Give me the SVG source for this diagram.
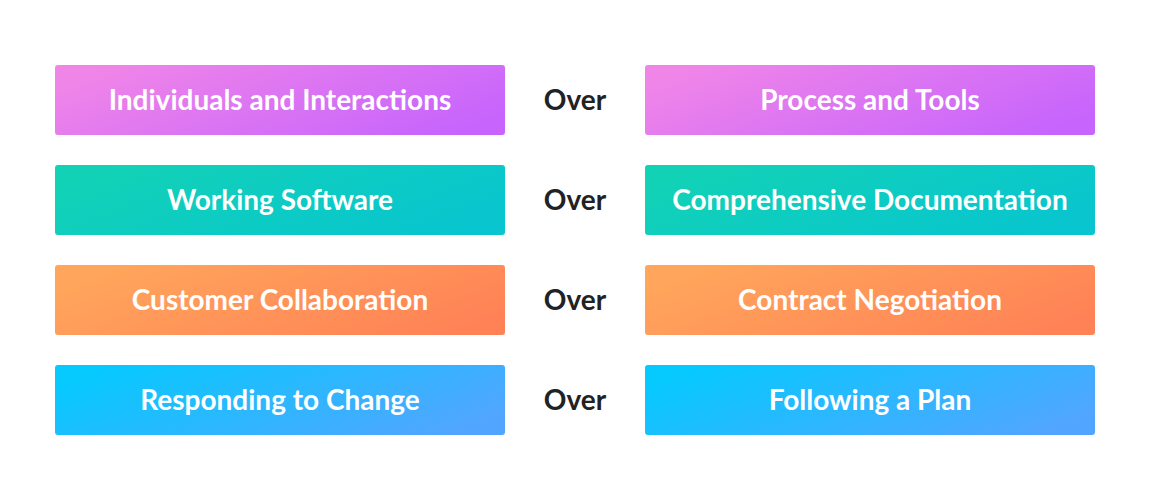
<svg xmlns="http://www.w3.org/2000/svg" width="1150" height="500" viewBox="0 0 1150 500">
<defs>
<linearGradient id="g1" x1="0" y1="0.3" x2="1" y2="0.7"><stop offset="0" stop-color="#F085E8"/><stop offset="1" stop-color="#C664FD"/></linearGradient>
<linearGradient id="g2" x1="0" y1="0.3" x2="1" y2="0.7"><stop offset="0" stop-color="#12D2B6"/><stop offset="1" stop-color="#08C5CF"/></linearGradient>
<linearGradient id="g3" x1="0" y1="0.3" x2="1" y2="0.7"><stop offset="0" stop-color="#FFA65C"/><stop offset="1" stop-color="#FF8256"/></linearGradient>
<linearGradient id="g4" x1="0" y1="0.3" x2="1" y2="0.7"><stop offset="0" stop-color="#06C9FE"/><stop offset="1" stop-color="#52A5FF"/></linearGradient>
</defs>
<style>
.t{font-family:Lato,"Open Sans",sans-serif;font-weight:700;font-size:28px;fill:#fff;text-anchor:middle;dominant-baseline:central}
.o{font-family:Lato,"Open Sans",sans-serif;font-weight:700;font-size:28px;fill:#222;text-anchor:middle;dominant-baseline:central}
</style>
<rect width="1150" height="500" fill="#fff"/>
<g id="n1l"><rect x="55" y="65" width="450" height="70" rx="3" fill="url(#g1)"/><text class="t" x="280" y="99">Individuals and Interactions</text></g>
<g id="o1"><text class="o" x="575" y="99">Over</text></g>
<g id="n1r"><rect x="645" y="65" width="450" height="70" rx="3" fill="url(#g1)"/><text class="t" x="870" y="99">Process and Tools</text></g>
<g id="n2l"><rect x="55" y="165" width="450" height="70" rx="3" fill="url(#g2)"/><text class="t" x="280" y="199">Working Software</text></g>
<g id="o2"><text class="o" x="575" y="199">Over</text></g>
<g id="n2r"><rect x="645" y="165" width="450" height="70" rx="3" fill="url(#g2)"/><text class="t" x="870" y="199">Comprehensive Documentation</text></g>
<g id="n3l"><rect x="55" y="265" width="450" height="70" rx="3" fill="url(#g3)"/><text class="t" x="280" y="299">Customer Collaboration</text></g>
<g id="o3"><text class="o" x="575" y="299">Over</text></g>
<g id="n3r"><rect x="645" y="265" width="450" height="70" rx="3" fill="url(#g3)"/><text class="t" x="870" y="299">Contract Negotiation</text></g>
<g id="n4l"><rect x="55" y="365" width="450" height="70" rx="3" fill="url(#g4)"/><text class="t" x="280" y="399">Responding to Change</text></g>
<g id="o4"><text class="o" x="575" y="399">Over</text></g>
<g id="n4r"><rect x="645" y="365" width="450" height="70" rx="3" fill="url(#g4)"/><text class="t" x="870" y="399">Following a Plan</text></g>
<g id="connectors"/>
</svg>
